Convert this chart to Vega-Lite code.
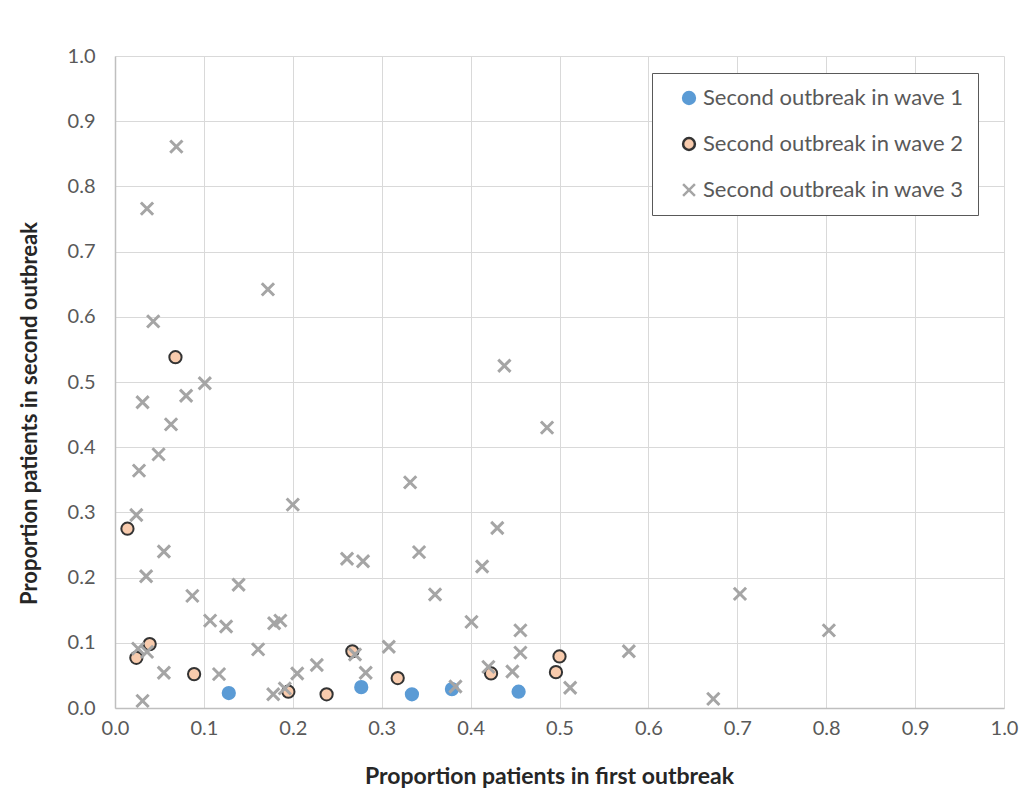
{
  "$schema": "https://vega.github.io/schema/vega-lite/v6.json",
  "autosize": "none",
  "width": 889,
  "height": 652,
  "padding": {"left": 115, "top": 56, "right": 17, "bottom": 100},
  "background": "white",
  "config": {
    "font": "Lato",
    "view": {"stroke": null},
    "axis": {
      "gridColor": "#D9D9D9",
      "gridWidth": 1,
      "domainColor": "#BFBFBF",
      "domainWidth": 1.5,
      "ticks": false,
      "labelColor": "#595959",
      "labelFontSize": 20,
      "labelFont": "Lato",
      "titleFont": "Lato",
      "titleFontSize": 22,
      "titleFontWeight": "bold",
      "titleColor": "#262626"
    }
  },
  "data": {
    "values": [
      {"x": 0.128, "y": 0.023, "wave": "Second outbreak in wave 1"},
      {"x": 0.277, "y": 0.032, "wave": "Second outbreak in wave 1"},
      {"x": 0.334, "y": 0.021, "wave": "Second outbreak in wave 1"},
      {"x": 0.379, "y": 0.029, "wave": "Second outbreak in wave 1"},
      {"x": 0.454, "y": 0.025, "wave": "Second outbreak in wave 1"},
      {"x": 0.014, "y": 0.275, "wave": "Second outbreak in wave 2"},
      {"x": 0.068, "y": 0.538, "wave": "Second outbreak in wave 2"},
      {"x": 0.024, "y": 0.077, "wave": "Second outbreak in wave 2"},
      {"x": 0.039, "y": 0.098, "wave": "Second outbreak in wave 2"},
      {"x": 0.089, "y": 0.052, "wave": "Second outbreak in wave 2"},
      {"x": 0.195, "y": 0.025, "wave": "Second outbreak in wave 2"},
      {"x": 0.238, "y": 0.021, "wave": "Second outbreak in wave 2"},
      {"x": 0.267, "y": 0.087, "wave": "Second outbreak in wave 2"},
      {"x": 0.318, "y": 0.046, "wave": "Second outbreak in wave 2"},
      {"x": 0.423, "y": 0.053, "wave": "Second outbreak in wave 2"},
      {"x": 0.496, "y": 0.055, "wave": "Second outbreak in wave 2"},
      {"x": 0.500, "y": 0.079, "wave": "Second outbreak in wave 2"},
      {"x": 0.069, "y": 0.861, "wave": "Second outbreak in wave 3"},
      {"x": 0.036, "y": 0.766, "wave": "Second outbreak in wave 3"},
      {"x": 0.172, "y": 0.642, "wave": "Second outbreak in wave 3"},
      {"x": 0.043, "y": 0.593, "wave": "Second outbreak in wave 3"},
      {"x": 0.101, "y": 0.498, "wave": "Second outbreak in wave 3"},
      {"x": 0.080, "y": 0.479, "wave": "Second outbreak in wave 3"},
      {"x": 0.031, "y": 0.469, "wave": "Second outbreak in wave 3"},
      {"x": 0.063, "y": 0.435, "wave": "Second outbreak in wave 3"},
      {"x": 0.049, "y": 0.389, "wave": "Second outbreak in wave 3"},
      {"x": 0.027, "y": 0.364, "wave": "Second outbreak in wave 3"},
      {"x": 0.438, "y": 0.525, "wave": "Second outbreak in wave 3"},
      {"x": 0.486, "y": 0.430, "wave": "Second outbreak in wave 3"},
      {"x": 0.200, "y": 0.312, "wave": "Second outbreak in wave 3"},
      {"x": 0.024, "y": 0.296, "wave": "Second outbreak in wave 3"},
      {"x": 0.332, "y": 0.346, "wave": "Second outbreak in wave 3"},
      {"x": 0.430, "y": 0.276, "wave": "Second outbreak in wave 3"},
      {"x": 0.055, "y": 0.240, "wave": "Second outbreak in wave 3"},
      {"x": 0.342, "y": 0.239, "wave": "Second outbreak in wave 3"},
      {"x": 0.261, "y": 0.229, "wave": "Second outbreak in wave 3"},
      {"x": 0.279, "y": 0.225, "wave": "Second outbreak in wave 3"},
      {"x": 0.035, "y": 0.202, "wave": "Second outbreak in wave 3"},
      {"x": 0.139, "y": 0.189, "wave": "Second outbreak in wave 3"},
      {"x": 0.413, "y": 0.217, "wave": "Second outbreak in wave 3"},
      {"x": 0.360, "y": 0.174, "wave": "Second outbreak in wave 3"},
      {"x": 0.087, "y": 0.172, "wave": "Second outbreak in wave 3"},
      {"x": 0.703, "y": 0.175, "wave": "Second outbreak in wave 3"},
      {"x": 0.107, "y": 0.134, "wave": "Second outbreak in wave 3"},
      {"x": 0.125, "y": 0.125, "wave": "Second outbreak in wave 3"},
      {"x": 0.179, "y": 0.130, "wave": "Second outbreak in wave 3"},
      {"x": 0.186, "y": 0.134, "wave": "Second outbreak in wave 3"},
      {"x": 0.401, "y": 0.132, "wave": "Second outbreak in wave 3"},
      {"x": 0.456, "y": 0.119, "wave": "Second outbreak in wave 3"},
      {"x": 0.803, "y": 0.119, "wave": "Second outbreak in wave 3"},
      {"x": 0.026, "y": 0.091, "wave": "Second outbreak in wave 3"},
      {"x": 0.036, "y": 0.086, "wave": "Second outbreak in wave 3"},
      {"x": 0.161, "y": 0.090, "wave": "Second outbreak in wave 3"},
      {"x": 0.308, "y": 0.094, "wave": "Second outbreak in wave 3"},
      {"x": 0.270, "y": 0.082, "wave": "Second outbreak in wave 3"},
      {"x": 0.578, "y": 0.087, "wave": "Second outbreak in wave 3"},
      {"x": 0.456, "y": 0.085, "wave": "Second outbreak in wave 3"},
      {"x": 0.055, "y": 0.054, "wave": "Second outbreak in wave 3"},
      {"x": 0.117, "y": 0.052, "wave": "Second outbreak in wave 3"},
      {"x": 0.205, "y": 0.053, "wave": "Second outbreak in wave 3"},
      {"x": 0.227, "y": 0.066, "wave": "Second outbreak in wave 3"},
      {"x": 0.282, "y": 0.054, "wave": "Second outbreak in wave 3"},
      {"x": 0.420, "y": 0.063, "wave": "Second outbreak in wave 3"},
      {"x": 0.447, "y": 0.056, "wave": "Second outbreak in wave 3"},
      {"x": 0.178, "y": 0.021, "wave": "Second outbreak in wave 3"},
      {"x": 0.191, "y": 0.030, "wave": "Second outbreak in wave 3"},
      {"x": 0.031, "y": 0.011, "wave": "Second outbreak in wave 3"},
      {"x": 0.383, "y": 0.033, "wave": "Second outbreak in wave 3"},
      {"x": 0.512, "y": 0.031, "wave": "Second outbreak in wave 3"},
      {"x": 0.673, "y": 0.014, "wave": "Second outbreak in wave 3"}
    ]
  },
  "mark": {"type": "point", "filled": false, "size": 150, "opacity": 1},
  "encoding": {
    "x": {
      "field": "x", "type": "quantitative",
      "scale": {"domain": [0, 1], "nice": false, "zero": true},
      "axis": {"title": "Proportion patients in first outbreak", "values": [0,0.1,0.2,0.3,0.4,0.5,0.6,0.7,0.8,0.9,1.0], "format": ".1f", "labelPadding": 10, "titlePadding": 27, "titleFontSize": 23, "titleX": 434, "labelFlush": false}
    },
    "y": {
      "field": "y", "type": "quantitative",
      "scale": {"domain": [0, 1], "nice": false},
      "axis": {"title": "Proportion patients in second outbreak", "values": [0,0.1,0.2,0.3,0.4,0.5,0.6,0.7,0.8,0.9,1.0], "format": ".1f", "labelPadding": 20, "titlePadding": 26, "titleY": 357, "labelFlush": false}
    },
    "shape": {
      "field": "wave", "type": "nominal",
      "scale": {"domain": ["Second outbreak in wave 1", "Second outbreak in wave 2", "Second outbreak in wave 3"], "range": ["circle", "circle", "M-1,-1L1,1M-1,1L1,-1"]},
      "legend": {
        "title": null,
        "orient": "none",
        "legendX": 537,
        "legendY": 17,
        "strokeColor": "#595959",
        "fillColor": "white",
        "padding": 14,
        "labelFontSize": 22,
        "labelColor": "#595959",
        "labelFont": "Lato",
        "labelLimit": 0,
        "rowPadding": 24,
        "symbolSize": 140,
        "symbolStrokeWidth": 2.5,
        "symbolOffset": 12,
        "labelOffset": 3,
        "offset": 0
      }
    },
    "fill": {
      "field": "wave", "type": "nominal",
      "scale": {"domain": ["Second outbreak in wave 1", "Second outbreak in wave 2", "Second outbreak in wave 3"], "range": ["#5B9BD5", "#F8CBAD", "#A5A5A5"]}
    },
    "stroke": {
      "field": "wave", "type": "nominal",
      "scale": {"domain": ["Second outbreak in wave 1", "Second outbreak in wave 2", "Second outbreak in wave 3"], "range": ["#5B9BD5", "#333333", "#A5A5A5"]}
    },
    "strokeWidth": {
      "condition": {"test": "datum.wave === 'Second outbreak in wave 3'", "value": 3},
      "value": 2
    }
  }
}
